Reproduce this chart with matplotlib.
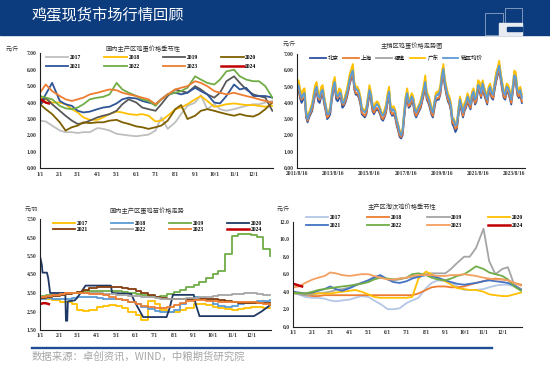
import numpy as np
import pandas as pd
import matplotlib
matplotlib.use('Agg')
from matplotlib import pyplot as plt
from matplotlib.patches import Rectangle
from matplotlib.lines import Line2D
import matplotlib.dates as mdates

plt.rcParams['font.family'] = ['Liberation Serif', 'Noto Sans CJK SC', 'DejaVu Sans']

# ---------------- 数据 ----------------
# 季节性图的横轴: 一年中的第几天 (1/1, 1/10, 1/20, 2/1 ...)
days = [0, 9, 19, 31, 40, 50, 59, 68, 78, 90, 99, 109, 120, 129, 139, 151, 160, 170,
        181, 190, 200, 212, 221, 231, 243, 252, 262, 273, 282, 292, 304, 313, 323,
        334, 343, 353, 364]
days_2024 = [0, 5, 9, 14]
month_labels = ['1/1', '2/1', '3/1', '4/1', '5/1', '6/1', '7/1', '8/1', '9/1', '10/1', '11/1', '12/1']
month_start = [0, 31, 59, 90, 120, 151, 181, 212, 243, 273, 304, 334]
years = ['2017', '2018', '2019', '2020', '2021', '2022', '2023', '2024']

# 图1 国内主产区鸡蛋价格 (元/斤)
egg_2017 = [2.9, 2.85, 2.6, 2.3, 2.2, 2.2, 2.15, 2.2, 2.2, 2.45, 2.4, 2.3, 2.1, 2.05, 2.0, 1.95, 2.0, 2.05,
            2.3, 3.1, 2.4, 2.8, 3.3, 3.8, 4.0, 4.45, 3.6, 3.9, 3.6, 3.5, 3.6, 3.7, 3.8, 3.9, 3.9, 4.0, 4.1]
egg_2018 = [4.3, 4.2, 4.0, 4.0, 3.9, 3.6, 3.4, 3.1, 2.95, 2.95, 3.1, 3.3, 3.45, 3.4, 3.3, 3.25, 3.3, 3.2,
            2.85, 2.9, 3.2, 3.6, 3.7, 3.9, 4.2, 4.4, 4.1, 3.75, 3.8, 3.9, 3.95, 3.9, 3.85, 3.85, 3.8, 3.75, 3.8]
egg_2019 = [3.8, 4.3, 3.9, 3.5, 3.2, 2.9, 2.7, 2.75, 2.9, 3.1, 3.2, 3.3, 3.5, 3.9, 4.2, 4.0, 3.7, 3.6,
            3.5, 3.9, 4.4, 4.8, 4.7, 4.6, 5.0, 4.8, 4.5, 4.3, 4.6, 5.3, 5.6, 5.2, 4.8, 4.5, 4.4, 4.3, 3.5]
egg_2020 = [3.9, 3.6, 3.3, 2.8, 2.3, 2.5, 2.6, 2.8, 2.75, 2.8, 2.8, 2.9, 2.95, 2.8, 2.7, 2.55, 2.5, 2.4,
            2.5, 2.6, 2.9, 3.6, 3.85, 3.0, 3.2, 3.5, 3.6, 3.5, 3.4, 3.3, 3.2, 3.3, 3.2, 3.15, 3.3, 3.6, 4.0]
egg_2021 = [3.9, 4.5, 5.2, 4.1, 3.9, 3.8, 3.5, 3.4, 3.45, 3.6, 3.7, 3.75, 3.95, 4.2, 4.3, 4.25, 4.1, 4.0,
            3.9, 4.2, 4.5, 4.6, 4.5, 4.6, 4.9, 4.7, 4.5, 4.0, 3.95, 4.4, 5.1, 4.8, 4.9, 4.4, 4.4, 4.4, 4.3]
egg_2022 = [4.4, 4.3, 4.2, 3.8, 3.65, 3.6, 3.7, 3.9, 4.2, 4.3, 4.35, 4.5, 5.2, 4.8, 4.6, 4.4, 4.2, 4.1,
            3.8, 4.2, 4.5, 4.6, 4.7, 4.9, 5.6, 5.4, 5.2, 5.1, 5.4, 5.9, 6.0, 5.6, 5.4, 5.3, 5.3, 5.0, 4.3]
egg_2023 = [4.6, 5.1, 4.7, 4.4, 4.2, 4.1, 4.2, 4.3, 4.5, 4.6, 4.7, 4.8, 4.75, 4.6, 4.5, 4.4, 4.3, 4.2,
            3.9, 4.2, 4.5, 4.8, 4.9, 5.0, 5.3, 5.2, 5.0, 4.7, 4.6, 4.5, 4.6, 4.5, 4.4, 4.3, 4.2, 4.1, 4.0]
egg_2024 = [4.2, 4.1, 4.0, 3.95]

# 图2 主销区鸡蛋价格 (元/斤), 2011/8 - 2024/1 月度
sale_start = '2011-08-16'
avg_price = [4.9, 5.1, 4.6, 4.3, 4.5,
             4.6, 3.4, 3.0, 3.3, 3.5, 3.8, 4.3, 4.8, 5.0, 4.4, 4.3, 4.7,
             4.8, 4.2, 3.8, 3.3, 3.3, 3.6, 4.4, 5.0, 5.3, 4.5, 4.4, 4.6,
             4.6, 4.0, 4.0, 4.3, 4.6, 5.0, 5.5, 5.8, 6.0, 5.1, 4.8, 4.8,
             4.6, 4.2, 3.6, 3.5, 3.4, 3.6, 4.2, 4.8, 4.5, 3.8, 3.6, 3.8,
             3.9, 3.8, 3.6, 3.3, 3.2, 3.4, 3.7, 4.3, 4.7, 3.7, 3.5, 3.6,
             3.4, 2.9, 2.6, 2.2, 2.0, 2.3, 3.3, 4.2, 4.6, 4.0, 4.1, 4.4,
             4.2, 3.6, 3.4, 3.6, 3.8, 4.0, 4.4, 4.8, 5.3, 4.5, 4.3, 4.0,
             3.6, 3.4, 3.9, 4.4, 4.5, 4.5, 4.8, 5.6, 6.1, 5.3, 4.8, 4.4,
             4.2, 3.8, 3.0, 2.9, 2.6, 2.7, 3.5, 4.2, 3.8, 3.4, 3.8, 4.0,
             4.4, 4.1, 3.9, 4.5, 4.7, 4.2, 4.4, 5.1, 5.0, 4.6, 5.2, 4.8,
             4.5, 4.2, 4.8, 5.0, 4.6, 4.5, 5.1, 5.6, 6.0, 6.3, 5.7, 5.1,
             4.6, 4.5, 5.0, 4.9, 4.6, 4.2, 4.9, 5.7, 5.6, 4.8, 4.6, 4.8,
             4.3]
guangdong = [5.2, 5.4, 4.9, 4.5, 4.8,
             4.9, 3.6, 3.1, 3.4, 3.7, 4.0, 4.6, 5.1, 5.3, 4.6, 4.5, 5.0,
             5.1, 4.4, 3.9, 3.4, 3.4, 3.8, 4.6, 5.3, 5.6, 4.7, 4.6, 4.9,
             4.8, 4.2, 4.1, 4.5, 4.8, 5.3, 5.8, 6.1, 6.4, 5.3, 5.0, 5.0,
             4.8, 4.4, 3.7, 3.6, 3.5, 3.8, 4.4, 5.1, 4.7, 4.0, 3.8, 4.0,
             4.1, 4.0, 3.7, 3.4, 3.3, 3.6, 3.9, 4.6, 5.0, 3.9, 3.7, 3.8,
             3.6, 3.0, 2.7, 2.3, 2.1, 2.4, 3.5, 4.4, 4.9, 4.2, 4.3, 4.6,
             4.4, 3.8, 3.5, 3.7, 3.9, 4.2, 4.6, 5.1, 5.7, 4.7, 4.5, 4.2,
             3.8, 3.5, 4.0, 4.6, 4.7, 4.7, 5.1, 5.9, 6.4, 5.5, 5.0, 4.6,
             4.4, 4.0, 3.1, 3.0, 2.7, 2.8, 3.7, 4.4, 4.0, 3.6, 4.0, 4.2,
             4.6, 4.3, 4.0, 4.7, 4.9, 4.4, 4.6, 5.4, 5.3, 4.8, 5.4, 5.0,
             4.7, 4.4, 5.0, 5.2, 4.8, 4.7, 5.3, 5.9, 6.2, 6.6, 5.9, 5.3,
             4.8, 4.7, 5.2, 5.1, 4.8, 4.4, 5.1, 6.0, 5.9, 5.0, 4.8, 5.0,
             4.5]
beijing = [4.6, 4.8, 4.3, 4.0, 4.2,
           4.3, 3.1, 2.8, 3.1, 3.3, 3.5, 4.0, 4.5, 4.7, 4.1, 4.0, 4.4,
           4.5, 3.9, 3.5, 3.0, 3.1, 3.3, 4.1, 4.7, 5.0, 4.2, 4.1, 4.3,
           4.3, 3.7, 3.8, 4.0, 4.3, 4.7, 5.2, 5.5, 5.7, 4.8, 4.5, 4.5,
           4.3, 3.9, 3.3, 3.2, 3.1, 3.3, 3.9, 4.5, 4.2, 3.5, 3.3, 3.5,
           3.6, 3.5, 3.3, 3.0, 2.9, 3.1, 3.4, 4.0, 4.4, 3.4, 3.2, 3.3,
           3.1, 2.6, 2.3, 1.9, 1.8, 2.0, 3.0, 3.9, 4.3, 3.7, 3.8, 4.1,
           3.9, 3.3, 3.1, 3.3, 3.5, 3.7, 4.1, 4.5, 5.0, 4.2, 4.0, 3.7,
           3.3, 3.1, 3.6, 4.1, 4.2, 4.2, 4.5, 5.3, 5.8, 5.0, 4.5, 4.1,
           3.9, 3.5, 2.7, 2.5, 2.2, 2.4, 3.2, 3.9, 3.5, 3.1, 3.5, 3.7,
           4.1, 3.8, 3.6, 4.2, 4.4, 3.9, 4.1, 4.8, 4.7, 4.3, 4.9, 4.5,
           4.2, 3.9, 4.5, 4.7, 4.3, 4.2, 4.8, 5.3, 5.7, 6.0, 5.4, 4.8,
           4.3, 4.2, 4.7, 4.6, 4.3, 3.9, 4.6, 5.4, 5.3, 4.5, 4.3, 4.5,
           4.0]
shanghai = [4.8, 4.9, 4.4, 4.2, 4.3,
            4.4, 3.2, 2.9, 3.2, 3.4, 3.6, 4.1, 4.6, 4.8, 4.3, 4.2, 4.5,
            4.6, 4.0, 3.6, 3.1, 3.2, 3.5, 4.2, 4.8, 5.1, 4.4, 4.3, 4.5,
            4.4, 3.9, 3.9, 4.1, 4.4, 4.8, 5.3, 5.6, 5.8, 4.9, 4.6, 4.6,
            4.4, 4.0, 3.4, 3.3, 3.2, 3.4, 4.0, 4.6, 4.3, 3.6, 3.4, 3.6,
            3.7, 3.6, 3.4, 3.1, 3.0, 3.2, 3.5, 4.1, 4.5, 3.5, 3.3, 3.4,
            3.2, 2.7, 2.4, 2.0, 1.9, 2.1, 3.1, 4.0, 4.4, 3.8, 3.9, 4.2,
            4.0, 3.4, 3.2, 3.4, 3.6, 3.8, 4.2, 4.6, 5.1, 4.3, 4.1, 3.8,
            3.4, 3.2, 3.7, 4.2, 4.3, 4.3, 4.6, 5.4, 5.9, 5.1, 4.6, 4.2,
            4.0, 3.6, 2.8, 2.7, 2.4, 2.5, 3.3, 4.0, 3.6, 3.2, 3.6, 3.8,
            4.2, 3.9, 3.7, 4.3, 4.5, 4.0, 4.2, 4.9, 4.8, 4.4, 5.0, 4.6,
            4.3, 4.0, 4.6, 4.8, 4.4, 4.3, 4.9, 5.4, 5.8, 6.1, 5.5, 4.9,
            4.4, 4.3, 4.8, 4.7, 4.4, 4.0, 4.7, 5.5, 5.4, 4.6, 4.4, 4.6,
            4.1]
fujian = [5.0, 5.2, 4.7, 4.4, 4.6,
          4.7, 3.5, 3.1, 3.4, 3.6, 3.9, 4.4, 4.9, 5.1, 4.5, 4.4, 4.8,
          4.9, 4.3, 3.9, 3.4, 3.4, 3.7, 4.5, 5.1, 5.4, 4.6, 4.5, 4.7,
          4.7, 4.1, 4.1, 4.4, 4.7, 5.1, 5.6, 5.9, 6.1, 5.2, 4.9, 4.9,
          4.7, 4.3, 3.7, 3.6, 3.5, 3.7, 4.3, 4.9, 4.6, 3.9, 3.7, 3.9,
          4.0, 3.9, 3.7, 3.4, 3.3, 3.5, 3.8, 4.4, 4.8, 3.8, 3.6, 3.7,
          3.5, 3.0, 2.7, 2.3, 2.1, 2.4, 3.4, 4.3, 4.7, 4.1, 4.2, 4.5,
          4.3, 3.7, 3.5, 3.7, 3.9, 4.1, 4.5, 4.9, 5.4, 4.6, 4.4, 4.1,
          3.7, 3.5, 4.0, 4.5, 4.6, 4.6, 4.9, 5.7, 6.2, 5.4, 4.9, 4.5,
          4.3, 3.9, 3.1, 3.0, 2.7, 2.8, 3.6, 4.3, 3.9, 3.5, 3.9, 4.1,
          4.5, 4.2, 4.0, 4.6, 4.8, 4.3, 4.5, 5.2, 5.1, 4.7, 5.3, 4.9,
          4.6, 4.3, 4.9, 5.1, 4.7, 4.6, 5.2, 5.7, 6.1, 6.4, 5.8, 5.2,
          4.7, 4.6, 5.1, 5.0, 4.7, 4.3, 5.0, 5.8, 5.7, 4.9, 4.7, 4.9,
          4.4]
region_names = ['北京', '上海', '福建', '广东', '销区均价']
sale_ticks = ['2011-08-16', '2013-08-16', '2015-08-16', '2017-08-16', '2019-08-16', '2021-08-16', '2023-08-16']

# 图3 国内主产区蛋鸡苗价格 (元/羽)
chick_2017 = [3.3, 3.2, 3.1, 3.0, 3.0, 2.9, 2.6, 2.55, 2.6, 2.75, 2.8, 2.85, 2.8, 2.7, 2.5, 2.3, 2.05, 3.05,
              2.9, 2.6, 2.5, 2.5, 2.6, 2.7, 2.9, 2.9, 2.85, 2.75, 2.7, 2.65, 2.6, 2.65, 2.7, 2.75, 2.75, 2.7, 2.7]
chick_2018 = [3.2, 3.25, 3.2, 3.2, 3.2, 3.25, 3.3, 3.3, 3.3, 3.25, 3.2, 3.2, 3.15, 3.1, 3.0, 2.9, 2.75, 2.65,
              2.55, 2.45, 2.45, 2.6, 2.9, 3.2, 3.3, 3.25, 3.1, 2.9, 2.8, 2.75, 2.8, 2.9, 2.95, 3.0, 3.05, 3.05, 3.1]
chick_2019 = [3.35, 3.4, 3.4, 3.45, 3.5, 3.5, 3.55, 3.6, 3.6, 3.6, 3.6, 3.6, 3.6, 3.55, 3.5, 3.45, 3.4, 3.35,
              3.3, 3.35, 3.45, 3.55, 3.65, 3.8, 3.95, 4.1, 4.3, 4.55, 4.7, 5.6, 6.6, 6.7, 6.7, 6.65, 6.55, 5.9, 5.5]
chick_2020_days = [0, 3, 4, 11, 13, 16, 40, 41, 43, 44, 55, 60, 66, 72, 112, 114, 144, 150, 163,
                   200, 205, 210, 243, 246, 252, 338, 350, 364]
chick_2020 = [5.5, 5.0, 4.6, 4.6, 4.3, 3.5, 3.5, 2.0, 2.0, 3.05, 3.1, 3.3, 3.6, 3.9, 3.9, 3.5, 3.45, 3.0, 2.2,
              2.2, 2.7, 3.4, 3.4, 2.9, 2.25, 2.25, 2.5, 2.85]
chick_2021 = [3.25, 3.3, 3.35, 3.4, 3.45, 3.5, 3.55, 3.65, 3.75, 3.8, 3.82, 3.82, 3.8, 3.75, 3.7, 3.6, 3.5, 3.4,
              3.3, 3.25, 3.2, 3.2, 3.2, 3.2, 3.2, 3.2, 3.2, 3.15, 3.1, 3.05, 3.0, 2.95, 2.95, 2.95, 2.95, 2.95, 2.95]
chick_2022 = [3.3, 3.35, 3.4, 3.45, 3.5, 3.5, 3.5, 3.5, 3.5, 3.5, 3.45, 3.45, 3.4, 3.4, 3.35, 3.35, 3.3, 3.3,
              3.25, 3.2, 3.2, 3.2, 3.2, 3.25, 3.25, 3.3, 3.3, 3.35, 3.4, 3.4, 3.45, 3.45, 3.5, 3.5, 3.45, 3.4, 3.4]
chick_2023 = [3.3, 3.35, 3.4, 3.45, 3.5, 3.5, 3.5, 3.5, 3.45, 3.45, 3.4, 3.3, 3.2, 3.1, 3.0, 2.9, 2.8, 2.75,
              2.7, 2.7, 2.75, 2.85, 2.95, 3.05, 3.1, 3.1, 3.05, 3.05, 3.0, 3.0, 3.0, 3.0, 3.0, 3.0, 2.95, 2.9, 2.85]
chick_2024 = [2.9, 2.95, 2.95, 2.9]

# 图4 主产区淘汰鸡价格 (元/斤)
hen_2017 = [4.0, 3.7, 3.4, 3.3, 3.3, 3.2, 3.0, 2.9, 3.0, 3.1, 3.3, 3.5, 3.4, 3.0, 2.6, 2.0, 2.0, 2.1,
            2.7, 3.0, 3.3, 4.4, 5.0, 5.3, 5.2, 5.0, 4.6, 4.2, 4.2, 4.2, 4.3, 4.5, 4.7, 4.8, 4.8, 4.6, 4.3]
hen_2018 = [3.9, 3.8, 3.6, 3.5, 3.5, 3.6, 3.6, 3.6, 3.6, 3.6, 3.6, 3.6, 3.6, 3.6, 3.6, 3.6, 3.6, 3.6,
            3.6, 3.6, 3.8, 4.2, 4.5, 4.6, 4.6, 4.5, 4.5, 4.6, 4.8, 5.0, 5.2, 5.4, 5.5, 5.4, 5.3, 5.0, 4.8]
hen_2019 = [3.8, 3.7, 3.6, 3.7, 3.8, 3.9, 4.0, 4.2, 4.3, 4.5, 4.8, 5.0, 5.3, 5.7, 5.8, 5.4, 5.3, 5.4,
            5.6, 5.7, 5.8, 6.0, 6.1, 6.1, 6.1, 6.6, 7.3, 8.0, 8.0, 9.0, 11.2, 7.5, 6.0, 6.6, 6.8, 4.8, 4.3]
hen_2020 = [3.8, 3.9, 3.8, 3.8, 3.8, 3.8, 3.8, 3.9, 4.0, 4.1, 4.2, 4.0, 3.7, 3.4, 3.3, 3.3, 3.3, 3.3,
            3.3, 3.4, 5.5, 6.3, 6.0, 5.5, 5.2, 4.8, 4.4, 4.3, 4.2, 4.2, 4.0, 3.7, 3.6, 3.5, 3.5, 3.7, 3.9]
hen_2021 = [4.0, 3.9, 3.8, 3.9, 4.1, 4.3, 4.6, 4.3, 4.1, 4.4, 4.7, 5.0, 5.3, 5.6, 5.9, 5.4, 5.1, 5.0,
            5.2, 5.5, 5.7, 5.9, 5.8, 5.6, 5.3, 5.1, 4.9, 4.8, 4.9, 5.0, 5.2, 5.3, 5.2, 5.1, 5.0, 4.7, 4.2]
hen_2022 = [3.9, 3.85, 3.8, 4.0, 4.2, 4.3, 4.4, 4.5, 4.6, 4.7, 4.8, 4.9, 5.1, 5.4, 5.6, 5.5, 5.4, 5.5,
            5.6, 6.0, 6.1, 5.9, 5.6, 5.4, 5.3, 5.5, 5.8, 6.0, 6.4, 6.9, 6.6, 6.2, 6.0, 5.8, 5.4, 4.6, 4.1]
hen_2023 = [4.5, 4.6, 5.0, 5.4, 5.6, 5.8, 6.2, 6.1, 5.9, 5.8, 5.9, 6.0, 6.0, 5.8, 5.6, 5.4, 5.4, 5.5,
            5.6, 5.8, 5.9, 5.9, 5.9, 5.8, 5.8, 5.9, 5.9, 6.0, 5.9, 5.8, 5.6, 5.5, 5.4, 5.4, 5.3, 5.0, 4.7]
hen_2024 = [4.9, 4.8, 4.7, 4.6]


# ---------------- 画图 ----------------
W, H = 550, 379

def fx(x):
    return x / W

def fy(y):
    return 1 - y / H

fig = plt.figure(figsize=(5.5, 3.79), dpi=100)

# 顶部标题栏
fig.patches.append(Rectangle((0, fy(35)), 1, 35 / H, transform=fig.transFigure, color='#0C3C7E', zorder=0))
fig.text(fx(32), fy(16), '鸡蛋现货市场行情回顾', color='white', fontsize=11,
         family=['Noto Sans CJK SC'], va='center', ha='left')
# 右上角标志
fig.patches.append(Rectangle((fx(485), fy(35)), 18 / W, 22 / H, transform=fig.transFigure,
                             fill=False, ec='#8FA6C6', lw=0.6))
fig.patches.append(Rectangle((fx(505), fy(27)), 17 / W, 19 / H, transform=fig.transFigure,
                             fill=False, ec='#8FA6C6', lw=0.6))
fig.patches.append(Rectangle((fx(499), fy(35)), 23 / W, 12 / H, transform=fig.transFigure,
                             color='#E8ECF2'))
fig.patches.append(Rectangle((fx(507), fy(31)), 15 / W, 4 / H, transform=fig.transFigure,
                             color='#0C3C7E'))

# 底部
fig.lines.append(Line2D([fx(32), fx(492)], [fy(348), fy(348)], transform=fig.transFigure,
                        color='#1F4E96', lw=1.7))
fig.text(fx(32), fy(357), '数据来源：卓创资讯，WIND，中粮期货研究院', color='#A6A6A6', fontsize=7.5,
         family=['Noto Sans CJK SC'], va='center', ha='left')

cjk = ['Noto Sans CJK SC']


def style_axes(ax):
    for s in ['top', 'right']:
        ax.spines[s].set_visible(False)
    for s in ['left', 'bottom']:
        ax.spines[s].set_color('#202020')
        ax.spines[s].set_linewidth(0.8)
    ax.tick_params(length=0, pad=2.5, labelsize=4, colors='#303030')
    for lab in ax.get_xticklabels() + ax.get_yticklabels():
        lab.set_fontweight('bold')


def season_axes(ax, ticks, fmt, ylim):
    ax.set_xlim(0, 365)
    ax.set_xticks(month_start)
    ax.set_xticklabels(month_labels)
    ax.set_ylim(*ylim)
    ax.set_yticks(ticks)
    ax.set_yticklabels([fmt % t for t in ticks])
    style_axes(ax)


def row_legend(ax, lines, labels, x, y, **kw):
    # matplotlib 按列排, 这里调成按行排
    order = [0, 4, 1, 5, 2, 6, 3, 7]
    ax.legend([lines[i] for i in order], [labels[i] for i in order], ncol=4, frameon=False,
              loc='upper left', bbox_to_anchor=(fx(x), fy(y)), bbox_transform=fig.transFigure,
              borderpad=0, borderaxespad=0, prop=dict(family=['Liberation Serif'], weight='bold', size=4),
              **kw)


# 图1
ax1 = fig.add_axes([fx(40), fy(168.3), 233 / W, 115 / H])
c1 = ['#BFBFBF', '#FFC000', '#595959', '#7F6000', '#2F5597', '#70AD47', '#ED7D31', '#C00000']
s1 = [egg_2017, egg_2018, egg_2019, egg_2020, egg_2021, egg_2022, egg_2023]
h1 = []
for i, s in enumerate(s1):
    h1.append(ax1.plot(days, s, color=c1[i], lw=1.3)[0])
h1.append(ax1.plot(days_2024, egg_2024, color=c1[7], lw=1.8)[0])
season_axes(ax1, [0, 1, 2, 3, 4, 5, 6, 7], '%.2f', (0, 7))
row_legend(ax1, h1, years, 46, 55, handlelength=4.0, handletextpad=0.3, columnspacing=4.2, labelspacing=0.75)
fig.text(fx(143), fy(49), '国内主产区鸡蛋价格季节性', fontsize=4.5, family=cjk, ha='center', va='center', color='#303030')
fig.text(fx(12), fy(49), '元/斤', fontsize=4, family=cjk, ha='center', va='center', color='#303030')

# 图2
ax2 = fig.add_axes([fx(297), fy(167.7), 228 / W, 113.4 / H])
sale_dates = pd.date_range(sale_start, periods=len(avg_price), freq=pd.DateOffset(months=1))
c2 = ['#2F52A0', '#ED7D31', '#A5A5A5', '#FFC000', '#5B9BD5']
h2 = []
for i, s in enumerate([beijing, shanghai, fujian, guangdong, avg_price]):
    h2.append(ax2.plot(sale_dates, s, color=c2[i], lw=1.3)[0])
ax2.set_xlim(pd.Timestamp('2011-08-16'), pd.Timestamp('2024-03-20'))
ax2.set_xticks([pd.Timestamp(t) for t in sale_ticks])
ax2.set_xticklabels([pd.Timestamp(t).strftime('%Y/%-m/%-d') for t in sale_ticks])
ax2.set_ylim(0, 7)
ax2.set_yticks([0, 1, 2, 3, 4, 5, 6, 7])
ax2.set_yticklabels(['%.2f' % t for t in range(8)])
style_axes(ax2)
ax2.legend(h2, region_names, ncol=5, frameon=False, loc='upper left', bbox_to_anchor=(fx(310), fy(55)),
           bbox_transform=fig.transFigure, borderpad=0, borderaxespad=0, prop=dict(family=cjk, size=4),
           handlelength=2.8, handletextpad=0.4, columnspacing=0.8)
fig.text(fx(412), fy(46), '主销区鸡蛋价格走势图', fontsize=4.5, family=cjk, ha='center', va='center', color='#303030')
fig.text(fx(289), fy(44), '元/斤', fontsize=4, family=cjk, ha='center', va='center', color='#303030')

# 图3
ax3 = fig.add_axes([fx(40), fy(330), 231 / W, 111 / H])
c3 = ['#FFC000', '#5B9BD5', '#70AD47', '#1F3864', '#843C0C', '#A5A5A5', '#ED7D31', '#C00000']
h3 = []
for i, s in enumerate([chick_2017, chick_2018, chick_2019]):
    h3.append(ax3.plot(days, s, color=c3[i], lw=1.3, drawstyle='steps-post')[0])
h3.append(ax3.plot(chick_2020_days, chick_2020, color=c3[3], lw=1.3)[0])
for i, s in enumerate([chick_2021, chick_2022, chick_2023]):
    h3.append(ax3.plot(days, s, color=c3[i + 4], lw=1.3, drawstyle='steps-post')[0])
h3.append(ax3.plot(days_2024, chick_2024, color=c3[7], lw=1.8)[0])
season_axes(ax3, [1.5, 2.5, 3.5, 4.5, 5.5, 6.5, 7.5], '%.2f', (1.5, 7.5))
row_legend(ax3, h3, years, 53, 221, handlelength=4.0, handletextpad=0.3, columnspacing=4.1, labelspacing=0.15)
fig.text(fx(147), fy(211), '国内主产区蛋鸡苗价格走势', fontsize=4.5, family=cjk, ha='center', va='center', color='#303030')
fig.text(fx(31), fy(209), '元/羽', fontsize=4, family=cjk, ha='center', va='center', color='#303030')

# 图4
ax4 = fig.add_axes([fx(293.3), fy(326.7), 228.4 / W, 105 / H])
c4 = ['#B4C7E7', '#ED7D31', '#A5A5A5', '#FFC000', '#4472C4', '#70AD47', '#F4A060', '#C00000']
h4 = []
for i, s in enumerate([hen_2017, hen_2018, hen_2019, hen_2020, hen_2021, hen_2022, hen_2023]):
    h4.append(ax4.plot(days, s, color=c4[i], lw=1.3)[0])
h4.append(ax4.plot(days_2024, hen_2024, color=c4[7], lw=1.8)[0])
season_axes(ax4, [0, 2, 4, 6, 8, 10, 12], '%.1f', (0, 12))
row_legend(ax4, h4, years, 306, 215, handlelength=4.0, handletextpad=0.3, columnspacing=4.6, labelspacing=0.6)
fig.text(fx(402), fy(207), '主产区淘汰鸡价格季节性', fontsize=4.5, family=cjk, ha='center', va='center', color='#303030')
fig.text(fx(283), fy(209), '元/斤', fontsize=4, family=cjk, ha='center', va='center', color='#303030')

fig.savefig('out.png', dpi=100)
